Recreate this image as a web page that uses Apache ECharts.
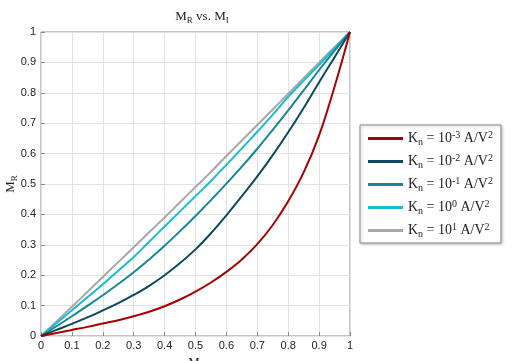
<!DOCTYPE html>
<html><head><meta charset="utf-8">
<script src="https://cdn.jsdelivr.net/npm/echarts@6/dist/echarts.min.js"></script>
<style>html,body{margin:0;padding:0;background:#fff}#c{width:515px;height:361px}</style>
</head><body><div id="c"></div>
<script>
const mI = [0,0.05,0.1,0.15,0.2,0.25,0.3,0.35,0.4,0.45,0.5,0.55,0.6,0.65,0.7,0.75,0.8,0.85,0.9,0.95,1];
const kn1em3 = [0,0.01,0.02,0.03,0.041,0.052,0.065,0.08,0.098,0.12,0.146,0.176,0.211,0.252,0.302,0.365,0.443,0.538,0.66,0.82,1];
const kn1em2 = [0,0.02,0.04,0.061,0.084,0.108,0.135,0.165,0.2,0.24,0.285,0.338,0.397,0.46,0.525,0.595,0.67,0.75,0.835,0.917,1];
const kn1em1 = [0,0.032,0.065,0.099,0.134,0.171,0.21,0.252,0.297,0.345,0.395,0.447,0.501,0.557,0.616,0.678,0.742,0.808,0.875,0.939,1];
const kn1e0  = [0,0.042,0.085,0.127,0.17,0.215,0.26,0.31,0.36,0.41,0.46,0.51,0.563,0.617,0.672,0.728,0.787,0.84,0.892,0.946,1];
const kn1e1  = [0,0.048,0.096,0.145,0.194,0.243,0.292,0.341,0.39,0.44,0.49,0.54,0.592,0.643,0.694,0.745,0.797,0.848,0.9,0.95,1];
const seriesNames = ['Kn = 10^-3 A/V^2','Kn = 10^-2 A/V^2','Kn = 10^-1 A/V^2','Kn = 10^0 A/V^2','Kn = 10^1 A/V^2'];
const exps = ['-3','-2','-1','0','1'];
const colors = ['#a80000','#0b4a5c','#178796','#17bdd0','#a8a8a8'];
const tickLabels = ['0','0.1','0.2','0.3','0.4','0.5','0.6','0.7','0.8','0.9','1'];
const allSeries = [kn1em3,kn1em2,kn1em1,kn1e0,kn1e1];

const serif = '"Liberation Serif","Times New Roman",serif';
const richT = {
  b:{fontFamily:serif,fontSize:13,color:'#222'},
  sub:{fontFamily:serif,fontSize:9,color:'#222',padding:[7,0,0,0]},
  sup:{fontFamily:serif,fontSize:9,color:'#222',padding:[0,0,7,0]}
};
const richL = {
  b:{fontFamily:serif,fontSize:14,color:'#222'},
  sub:{fontFamily:serif,fontSize:10,color:'#222',padding:[7,0,0,0]},
  sup:{fontFamily:serif,fontSize:10,color:'#222',padding:[0,0,7,0]}
};
const chart = echarts.init(document.getElementById('c'), null, {renderer:'canvas'});
const fmtTick = v => tickLabels[Math.round(v*10)];
chart.setOption({
  animation:false,
  title:{text:'{b|M}{sub|R}{b| vs. M}{sub|I}',left:197,textAlign:'center',top:4,
    textStyle:{rich:richT,fontWeight:'normal'}},
  grid:{left:41,right:165,top:32,bottom:25,outerBoundsMode:'none',containLabel:false,show:true,borderColor:'#8a8a8a',borderWidth:1},
  legend:{orient:'vertical',left:360,top:125,padding:[5,8,4,8],itemGap:6,
    itemWidth:35,itemHeight:3,icon:'rect',borderColor:'#8a8a8a',borderWidth:1,
    shadowColor:'rgba(0,0,0,0.25)',shadowBlur:3,shadowOffsetX:1,shadowOffsetY:1,backgroundColor:'#fff',
    data:seriesNames,
    formatter:function(name){const i=seriesNames.indexOf(name);return '{b|K}{sub|n}{b| = 10}{sup|'+exps[i]+'}{b| A/V}{sup|2}';},
    textStyle:{rich:richL,padding:[0,0,0,0]}},
  xAxis:{type:'value',min:0,max:1,interval:0.1,
    name:'{b|M}{sub|I}',nameLocation:'middle',nameGap:19,nameMoveOverlap:false,nameTextStyle:{rich:richT},
    axisLine:{show:false},axisTick:{show:true,inside:true,length:4,lineStyle:{color:'#8a8a8a'}},
    axisLabel:{formatter:fmtTick,fontFamily:'"Liberation Sans",Arial,sans-serif',fontSize:11,color:'#222',margin:4},
    splitLine:{show:true,lineStyle:{color:'#e2e2e2',width:1}}},
  yAxis:{type:'value',min:0,max:1,interval:0.1,
    name:'{b|M}{sub|R}',nameLocation:'middle',nameGap:22,nameRotate:90,nameMoveOverlap:false,nameTextStyle:{rich:richT},
    axisLine:{show:false},axisTick:{show:true,inside:true,length:4,lineStyle:{color:'#8a8a8a'}},
    axisLabel:{formatter:fmtTick,fontFamily:'"Liberation Sans",Arial,sans-serif',fontSize:11,color:'#222',margin:5},
    splitLine:{show:true,lineStyle:{color:'#e2e2e2',width:1}}},
  series: allSeries.map((arr,i)=>({
    name:seriesNames[i],type:'line',smooth:0.4,showSymbol:false,
    data:mI.map((x,j)=>[x,arr[j]]),
    lineStyle:{color:colors[i],width:2},itemStyle:{color:colors[i]},z:10-i
  }))
});
</script></body></html>
